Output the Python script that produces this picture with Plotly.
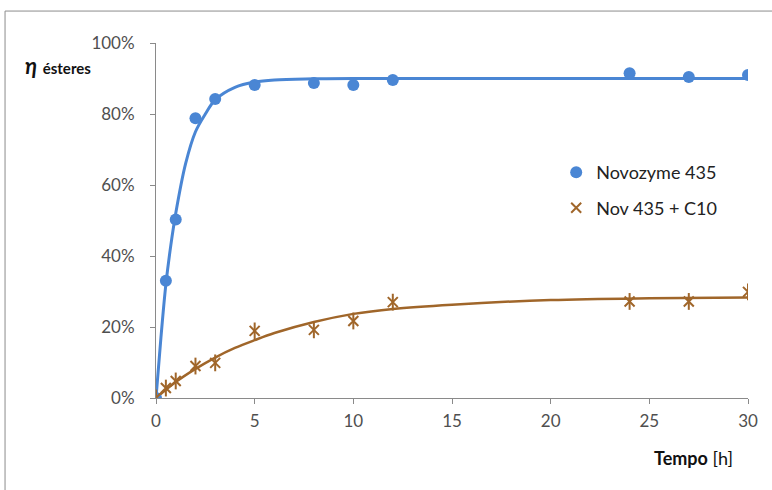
import plotly.graph_objects as go

# Measured ester yield (fraction) over reaction time [h]
t_nov = [0, 0.5, 1, 2, 3, 5, 8, 10, 12, 24, 27, 30]
y_nov = [0.0, 0.33, 0.503, 0.788, 0.842, 0.882, 0.887, 0.882, 0.896, 0.915, 0.904, 0.910]

t_c10 = [0, 0.5, 1, 2, 3, 5, 8, 10, 12, 24, 27, 30]
y_c10 = [0.0, 0.028, 0.048, 0.09, 0.099, 0.189, 0.192, 0.217, 0.27, 0.272, 0.272, 0.299]

# Smoothed kinetic trend lines
t_fit_nov = [0, 0.25, 0.5, 0.75, 1, 1.5, 2, 2.5, 3, 4, 5, 6, 8, 10, 15, 20, 25, 30]
y_fit_nov = [0.0, 0.17, 0.32, 0.43, 0.52, 0.66, 0.75, 0.80, 0.84, 0.875, 0.89, 0.896,
             0.899, 0.90, 0.90, 0.90, 0.90, 0.90]

t_fit_c10 = [0, 1, 2, 3, 4, 5, 6, 8, 10, 12, 15, 20, 25, 30]
y_fit_c10 = [0.0, 0.045, 0.082, 0.114, 0.141, 0.163, 0.183, 0.214, 0.237, 0.251,
             0.263, 0.276, 0.281, 0.283]

x_ticks = [0, 5, 10, 15, 20, 25, 30]
y_ticks = [0, 0.2, 0.4, 0.6, 0.8, 1.0]
y_tick_text = ["0%", "20%", "40%", "60%", "80%", "100%"]

BLUE = "#4a86d4"
BROWN = "#a0662a"
FONT = "Lato"
TICK_COLOR = "#4f4f4f"
AXIS_COLOR = "#8a8a8a"

fig = go.Figure()

fig.add_trace(go.Scatter(x=t_fit_nov, y=y_fit_nov, mode="lines", line_shape="spline",
                         line=dict(color=BLUE, width=3), showlegend=False, hoverinfo="skip"))
fig.add_trace(go.Scatter(x=t_fit_c10, y=y_fit_c10, mode="lines", line_shape="spline",
                         line=dict(color=BROWN, width=2.5), showlegend=False, hoverinfo="skip"))

fig.add_trace(go.Scatter(x=t_nov, y=y_nov, mode="markers", name="Novozyme 435",
                         marker=dict(symbol="circle", size=12, color=BLUE),
                         legend="legend"))
# star marker: an X plus a vertical stroke
fig.add_trace(go.Scatter(x=t_c10, y=y_c10, mode="markers", name="Nov 435 + C10",
                         marker=dict(symbol="x-thin-open", size=10, color=BROWN,
                                     line=dict(color=BROWN, width=2)),
                         legend="legend2"))
fig.add_trace(go.Scatter(x=t_c10, y=y_c10, mode="markers", showlegend=False,
                         marker=dict(symbol="line-ns-open", size=12, color=BROWN,
                                     line=dict(color=BROWN, width=2)),
                         hoverinfo="skip"))

fig.update_layout(
    width=772, height=490,
    margin=dict(l=156, r=24, t=43, b=92),
    paper_bgcolor="white", plot_bgcolor="white",
    font=dict(family=FONT, size=17, color=TICK_COLOR),
    legend=dict(x=0.676, y=0.635, xanchor="left", yanchor="middle",
                font=dict(family=FONT, size=18, color="#222222"),
                bgcolor="rgba(0,0,0,0)"),
    legend2=dict(x=0.676, y=0.535, xanchor="left", yanchor="middle",
                 font=dict(family=FONT, size=18, color="#222222"),
                 bgcolor="rgba(0,0,0,0)"),
)

fig.update_xaxes(range=[0, 30], tickvals=x_ticks, showgrid=False, zeroline=False,
                 showline=True, linecolor=AXIS_COLOR, linewidth=1,
                 ticks="outside", ticklen=5, tickcolor=AXIS_COLOR,
                 tickfont=dict(size=17, color=TICK_COLOR), ticklabelstandoff=3)
fig.update_yaxes(range=[0, 1.0], tickvals=y_ticks, ticktext=y_tick_text,
                 showgrid=False, zeroline=False,
                 showline=True, linecolor=AXIS_COLOR, linewidth=1,
                 ticks="outside", ticklen=5, tickcolor=AXIS_COLOR,
                 tickfont=dict(size=17, color=TICK_COLOR), ticklabelstandoff=12)

# axis titles
fig.add_annotation(xref="paper", yref="paper", x=-0.225, y=0.936, xanchor="left",
                   yanchor="middle", showarrow=False,
                   text="<b><i>η</i></b> <b><span style='font-size:15px'>ésteres</span></b>",
                   font=dict(family=FONT, size=22, color="#111111"))
fig.add_annotation(xref="paper", yref="paper", x=0.978, y=-0.169, xanchor="right",
                   yanchor="middle", showarrow=False,
                   text="<b>Tempo</b> [h]",
                   font=dict(family=FONT, size=18, color="#111111"))

# chart frame (top and left edges)
fig.add_shape(type="line", xref="paper", yref="paper", x0=-0.255, x1=1.1,
              y0=1.09, y1=1.09, line=dict(color="#8c8c8c", width=1))
fig.add_shape(type="line", xref="paper", yref="paper", x0=-0.255, x1=-0.255,
              y0=1.09, y1=-0.3, line=dict(color="#8c8c8c", width=1))

fig.write_html("out.html")
